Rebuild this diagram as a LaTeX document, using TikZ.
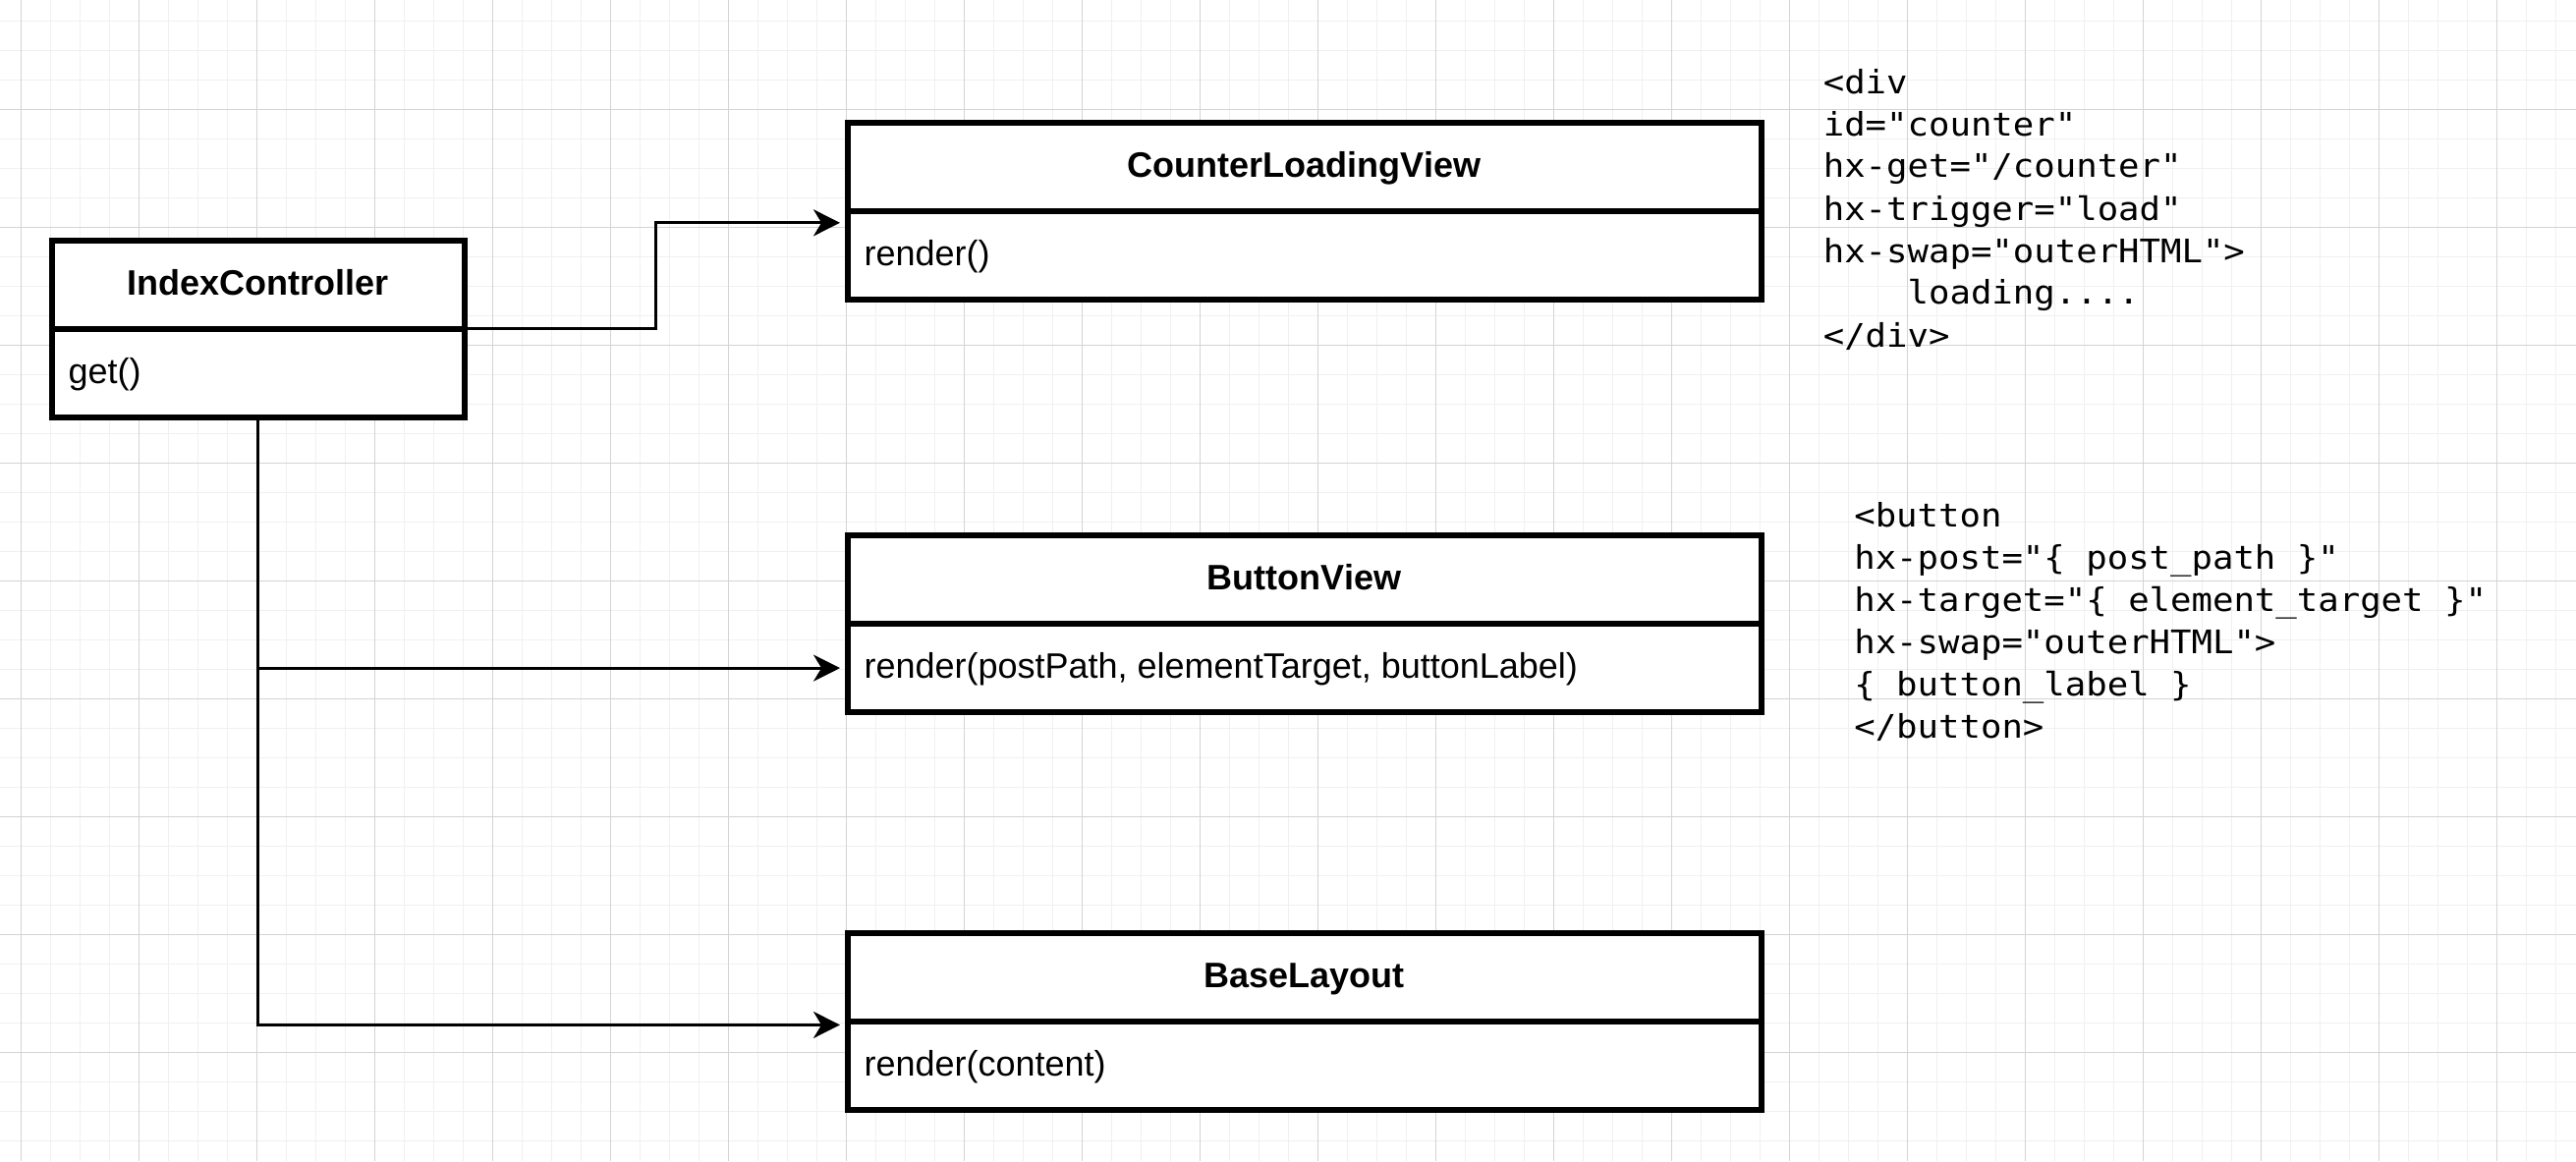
\documentclass[tikz,border=0pt]{standalone}
\usepackage{fontspec}
\setmainfont{Liberation Sans}
\newfontfamily\codefont[FakeStretch=1.08]{DejaVu Sans Mono}
\usetikzlibrary{arrows.meta}
\definecolor{gridminor}{RGB}{240,240,240}
\definecolor{gridmajor}{RGB}{212,212,212}
\begin{document}
\begin{tikzpicture}[x=1pt,y=-1pt,
  classbox/.style={draw=black, line width=2pt, fill=white, minimum width=#1, minimum height=60pt, inner sep=0pt, outer sep=0pt, anchor=north west},
  divline/.style={draw=black, line width=2pt},
  headtext/.style={font=\bfseries\fontsize{12}{14.4}\selectfont, anchor=base, inner sep=0pt},
  bodytext/.style={font=\fontsize{12}{14.4}\selectfont, anchor=base west, inner sep=0pt},
  codetext/.style={font=\codefont\fontsize{11}{13}\selectfont, anchor=base west, inner sep=0pt},
  conn/.style={draw=black, line width=1pt, -{Stealth[length=9pt,width=9pt,inset=2.7pt]}, shorten >=2.5pt},
  gminor/.style={draw=gridminor, line width=0.5pt},
  gmajor/.style={draw=gridmajor, line width=0.4pt}]
\useasboundingbox (0,0) rectangle (874,394);
\fill[white] (0,0) rectangle (874,394);
% grid
\foreach \i in {0,...,86} \draw[gminor] ({7.23+10*\i},0) -- ({7.23+10*\i},394);
\foreach \j in {0,...,38} \draw[gminor] (0,{7.23+10*\j}) -- (874,{7.23+10*\j});
\foreach \i in {0,...,21} \draw[gmajor] ({7.23+40*\i},0) -- ({7.23+40*\i},394);
\foreach \j in {0,...,9} \draw[gmajor] (0,{37.23+40*\j}) -- (874,{37.23+40*\j});

% IndexController
\node[classbox=140pt] (ic) at (17.5,81.5) {};
\draw[divline] (ic.west) -- (ic.east);
\node[headtext] (icname) at (87.5,100.1) {IndexController};
\node[bodytext] (icop) at (23,130) {get()};

% CounterLoadingView
\node[classbox=310pt] (clv) at (287.5,41.5) {};
\draw[divline] (clv.west) -- (clv.east);
\node[headtext] (clvname) at (442.5,60.1) {CounterLoadingView};
\node[bodytext] (clvop) at (293,90) {render()};

% ButtonView
\node[classbox=310pt] (bv) at (287.5,181.5) {};
\draw[divline] (bv.west) -- (bv.east);
\node[headtext] (bvname) at (442.5,200.1) {ButtonView};
\node[bodytext] (bvop) at (293,230) {render(postPath, elementTarget, buttonLabel)};

% BaseLayout
\node[classbox=310pt] (bl) at (287.5,316.5) {};
\draw[divline] (bl.west) -- (bl.east);
\node[headtext] (blname) at (442.5,335.1) {BaseLayout};
\node[bodytext] (blop) at (293,365) {render(content)};

% connectors
\coordinate (m1) at (222.5,111.5);
\coordinate (clvin) at (287.5,75.6);
\coordinate (bvin) at (287.5,226.7);
\coordinate (blin) at (287.5,347.8);
\draw[conn] (ic.east) -- (m1) |- (clvin);
\draw[conn] (ic.south) |- (bvin);
\draw[conn] (ic.south) |- (blin);

% code block 1
\node[codetext] (c1a) at (618.4,31.7) {<div};
\node[codetext] (c1b) at (618.4,46.0) {id="counter"};
\node[codetext] (c1c) at (618.4,60.3) {hx-get="/counter"};
\node[codetext] (c1d) at (618.4,74.7) {hx-trigger="load"};
\node[codetext] (c1e) at (618.4,89.0) {hx-swap="outerHTML">};
\node[codetext] (c1f) at (618.4,103.3) {\hphantom{0000}loading....};
\node[codetext] (c1g) at (618.4,117.7) {</div>};

% code block 2
\node[codetext] (c2a) at (628.9,178.7) {<button};
\node[codetext] (c2b) at (628.9,193.0) {hx-post="\{ post\_path \}"};
\node[codetext] (c2c) at (628.9,207.4) {hx-target="\{ element\_target \}"};
\node[codetext] (c2d) at (628.9,221.7) {hx-swap="outerHTML">};
\node[codetext] (c2e) at (628.9,236.1) {\{ button\_label \}};
\node[codetext] (c2f) at (628.9,250.4) {</button>};
\end{tikzpicture}
\end{document}
